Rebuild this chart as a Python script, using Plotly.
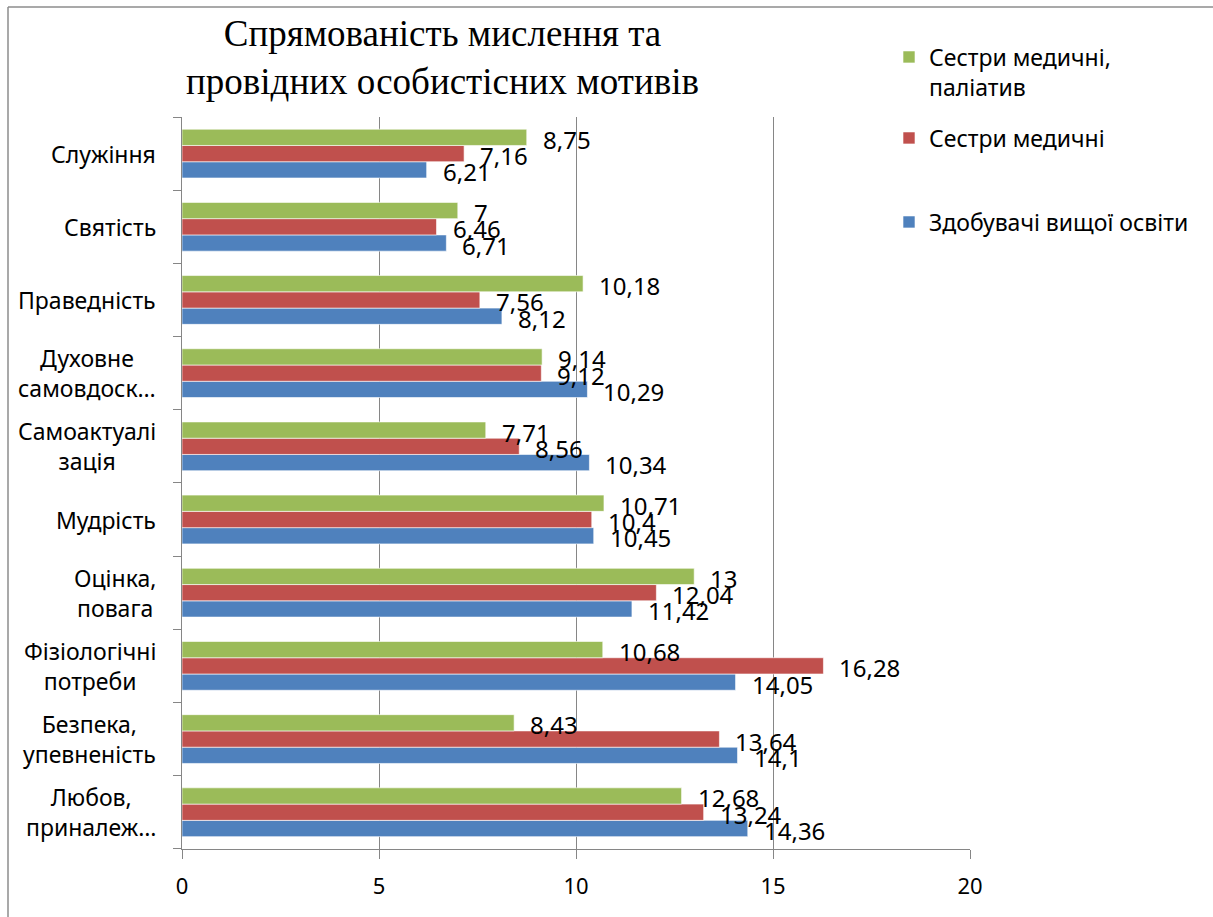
import plotly.graph_objects as go

# Categories listed bottom-to-top as they appear on the vertical axis
categories = [
    "Любов,<br>приналеж…",
    "Безпека,<br>упевненість",
    "Фізіологічні<br>потреби",
    "Оцінка,<br>повага",
    "Мудрість",
    "Самоактуалі<br>зація",
    "Духовне<br>самовдоск…",
    "Праведність",
    "Святість",
    "Служіння",
]

students = [14.36, 14.1, 14.05, 11.42, 10.45, 10.34, 10.29, 8.12, 6.71, 6.21]
nurses = [13.24, 13.64, 16.28, 12.04, 10.4, 8.56, 9.12, 7.56, 6.46, 7.16]
nurses_palliative = [12.68, 8.43, 10.68, 13, 10.71, 7.71, 9.14, 10.18, 7, 8.75]

series_names = ["Здобувачі вищої освіти", "Сестри медичні", "Сестри медичні,<br>паліатив"]
series_values = [students, nurses, nurses_palliative]
series_colors = ["#4F81BD", "#C0504D", "#9BBB59"]

W, H = 1213, 917
L, R, T, B = 182, 970, 117, 849
FONT = "Noto Sans"


def px_to_paper_x(px):
    return (px - L) / (R - L)


def px_to_paper_y(py):
    return (B - py) / (B - T)


def fmt(v):
    return f"{v:g}".replace(".", ",")


fig = go.Figure()
legend_ids = ["legend3", "legend2", "legend"]
for name, vals, color, lg in zip(series_names, series_values, series_colors, legend_ids):
    fig.add_trace(go.Bar(
        y=categories,
        x=vals,
        name=name,
        orientation="h",
        marker=dict(color=color, line=dict(color="rgba(255,255,255,0.6)", width=1)),
        legend=lg,
        hoverinfo="x+name",
    ))

# Value labels beside each bar end
band_px = (B - T) / len(categories)
bar_px = band_px * (1 - 1 / 3) / 3
annotations = []
for k, vals in enumerate(series_values):
    shift = (k - 1) * bar_px
    for cat, v in zip(categories, vals):
        annotations.append(dict(
            x=v, y=cat, xref="x", yref="y", text=fmt(v), showarrow=False,
            xanchor="left", yanchor="middle", xshift=14, yshift=shift - 2,
            font=dict(family=FONT, size=24, color="#000000"),
        ))

# Category labels, centred line by line
for cat in categories:
    annotations.append(dict(
        x=0, y=cat, xref="paper", yref="y", text=cat, showarrow=False,
        xanchor="right", yanchor="middle", align="center", xshift=-24,
        font=dict(family=FONT, size=23, color="#000000"),
    ))

# Chart title
annotations.append(dict(
    x=px_to_paper_x(442), y=px_to_paper_y(58), xref="paper", yref="paper",
    text="Спрямованість мислення та<br>провідних особистісних мотивів",
    showarrow=False, xanchor="center", yanchor="middle", align="center",
    font=dict(family="Liberation Serif", size=37, color="#000000"),
))

legend_style = dict(
    font=dict(family=FONT, size=23, color="#000000"),
    bgcolor="rgba(0,0,0,0)", xanchor="left", yanchor="middle",
    valign="top", itemclick=False, itemdoubleclick=False,
)
fig.update_layout(
    width=W, height=H,
    margin=dict(l=L, r=W - R, t=T, b=H - B),
    paper_bgcolor="white", plot_bgcolor="white",
    barmode="group", bargap=1 / 3, bargroupgap=0,
    showlegend=True,
    legend=dict(x=px_to_paper_x(889), y=px_to_paper_y(72), **legend_style),
    legend2=dict(x=px_to_paper_x(889), y=px_to_paper_y(138), **legend_style),
    legend3=dict(x=px_to_paper_x(889), y=px_to_paper_y(222), **legend_style),
    xaxis=dict(
        range=[0, 20], dtick=5, tick0=0,
        showgrid=True, gridcolor="#868686", gridwidth=1,
        showline=True, linecolor="#868686", linewidth=1,
        ticks="outside", ticklen=9, tickcolor="#868686",
        zeroline=False, ticklabelstandoff=9,
        tickfont=dict(family=FONT, size=22, color="#000000"),
        fixedrange=True,
    ),
    yaxis=dict(
        type="category", categoryorder="array", categoryarray=categories,
        showticklabels=False, tickson="boundaries",
        ticks="outside", ticklen=8, tickcolor="#868686",
        showline=True, linecolor="#868686", linewidth=1,
        showgrid=False, zeroline=False, fixedrange=True,
    ),
    annotations=annotations,
    shapes=[
        dict(type="line", xref="paper", yref="paper",
             x0=px_to_paper_x(8), x1=px_to_paper_x(8),
             y0=px_to_paper_y(7), y1=px_to_paper_y(H + 5),
             line=dict(color="#8c8c8c", width=1.5)),
        dict(type="line", xref="paper", yref="paper",
             x0=px_to_paper_x(8), x1=px_to_paper_x(W + 5),
             y0=px_to_paper_y(7), y1=px_to_paper_y(7),
             line=dict(color="#8c8c8c", width=1.5)),
    ],
)

fig.write_html("out.html")
